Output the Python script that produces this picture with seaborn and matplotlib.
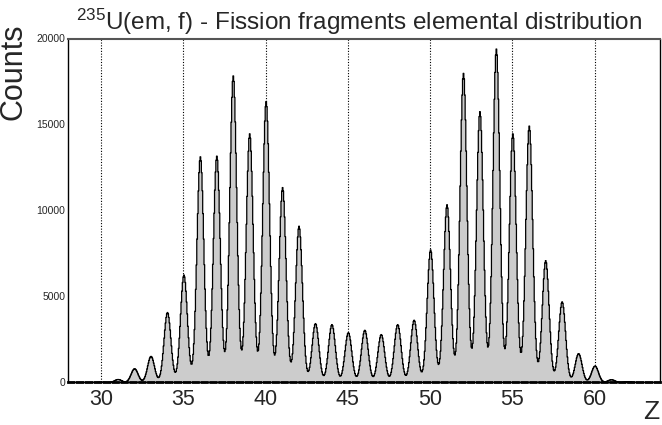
import numpy as np
import pandas as pd
import matplotlib
matplotlib.use("Agg")
import matplotlib.pyplot as plt
import seaborn as sns

# peak counts per element
elements = list(range(30, 63))
peak_counts = [20, 175, 800, 1520, 4075, 6260, 13140, 13180, 17850, 14480,
               16360, 11350, 9100, 3430, 3370, 2900, 3040, 2790, 3370, 3625,
               7720, 10350, 18000, 15770, 19415, 14480, 14930, 7095, 4696,
               1677, 955, 160, 50]
x_ticks = [30, 35, 40, 45, 50, 55, 60]
y_ticks = [0, 5000, 10000, 15000, 20000]

# detector resolution in Z and histogram binning (drawing only)
resolution = 0.21
bin_width = 0.04
x_lo, x_hi = 27.98, 63.98
centers = np.arange(x_lo + bin_width / 2, x_hi, bin_width)
spectrum = np.zeros_like(centers)
for z, c in zip(elements, peak_counts):
    spectrum += c * np.exp(-0.5 * ((centers - z) / resolution) ** 2)
df = pd.DataFrame({"Z": centers, "counts": spectrum})

sns.set_style("white")
plt.rcParams["font.family"] = ["Liberation Sans", "DejaVu Sans"]
plt.rcParams["mathtext.fontset"] = "custom"
plt.rcParams["mathtext.rm"] = "Liberation Sans"
plt.rcParams["mathtext.default"] = "regular"

fig = plt.figure(figsize=(6.62, 4.25), dpi=100)
ax = fig.add_axes([68 / 662, 1 - 382 / 425, 592 / 662, (382 - 38.5) / 425])

sns.histplot(data=df, x="Z", weights="counts", binwidth=bin_width,
             binrange=(x_lo, x_hi), element="step", fill=True,
             color="#cccccc", alpha=1, edgecolor="black", linewidth=0.9,
             ax=ax)

for xv in x_ticks:
    ax.axvline(xv, color="black", linestyle=(0, (1, 1.5)), linewidth=0.8,
               zorder=0.5)

ax.set_xlim(x_lo, x_hi)
ax.set_ylim(0, 20000)
ax.set_xticks(x_ticks)
ax.set_yticks(y_ticks)
ax.tick_params(axis="x", direction="in", length=7, width=1, labelsize=15.5,
               pad=5)
ax.tick_params(axis="y", direction="in", length=13, width=1, labelsize=7.5,
               pad=2)
ax.set_xlabel("")
ax.set_ylabel("")

for side in ["left", "right", "top", "bottom"]:
    ax.spines[side].set_visible(True)
    ax.spines[side].set_color("black")
    ax.spines[side].set_linewidth(1.0)
ax.spines["top"].set_color("#555555")
ax.spines["top"].set_linewidth(1.5)
ax.spines["bottom"].set_linestyle((0, (2, 1.2)))
ax.spines["bottom"].set_linewidth(2)

fig.text(359 / 662, 1 - 30 / 425,
         r"$^{235}$U(em, f) - Fission fragments elemental distribution",
         ha="center", va="baseline", fontsize=17.5)
fig.text(14 / 662, 1 - 24 / 425, "Counts", rotation=90, ha="center",
         va="top", fontsize=22)
fig.text(659 / 662, 1 - 419 / 425, "Z", ha="right", va="baseline",
         fontsize=19)

fig.savefig("out.png", dpi=100)
